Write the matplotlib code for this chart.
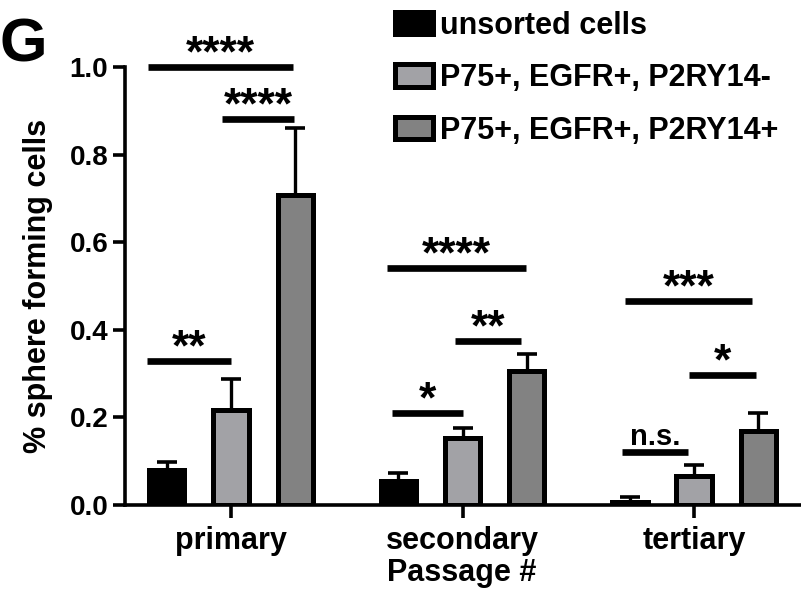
import matplotlib
matplotlib.use("Agg")
import matplotlib.pyplot as plt
import numpy as np

plt.rcParams['font.family'] = ['Liberation Sans', 'DejaVu Sans']
plt.rcParams['font.weight'] = 'bold'

groups = ["primary", "secondary", "tertiary"]
series = ["unsorted cells", "P75+, EGFR+, P2RY14-", "P75+, EGFR+, P2RY14+"]
colors = ["#000000", "#a2a2a6", "#828282"]
means = {
    "unsorted cells": [0.079, 0.054, 0.006],
    "P75+, EGFR+, P2RY14-": [0.218, 0.154, 0.067],
    "P75+, EGFR+, P2RY14+": [0.707, 0.305, 0.170],
}
err_tops = {
    "unsorted cells": [0.098, 0.073, 0.018],
    "P75+, EGFR+, P2RY14-": [0.288, 0.176, 0.091],
    "P75+, EGFR+, P2RY14+": [0.860, 0.345, 0.210],
}
# significance brackets (spans in x data units, height in y units)
sig_x0 = [-0.359, -0.039, -0.363, 0.674, 0.696, 0.968, 1.689, 1.702, 1.978]
sig_x1 = [0.268, 0.272, 0.000, 1.274, 1.002, 1.253, 1.974, 2.251, 2.268]
sig_y = [1.000, 0.881, 0.329, 0.541, 0.210, 0.375, 0.121, 0.466, 0.297]
sig_text = ["****", "****", "**", "****", "*", "**", "n.s.", "***", "*"]

fig = plt.figure(figsize=(8.01, 5.91), dpi=100)
ax = fig.add_axes([125/801, 1-505/591, 1-125/801, (505-67)/591])

x = np.arange(len(groups))
offset = 0.277
width = 0.152
for i, s in enumerate(series):
    xs = x + (i - 1) * offset
    m = np.array(means[s])
    e = np.array(err_tops[s]) - m
    ax.bar(xs, m, width, color=colors[i], edgecolor="black", linewidth=3.6,
           label=s, zorder=3)
    ax.errorbar(xs, m, yerr=[np.zeros_like(e), e], fmt="none", ecolor="black",
                elinewidth=2.4, capsize=7, capthick=2.6, zorder=2)

for xa, xb, h, t in zip(sig_x0, sig_x1, sig_y, sig_text):
    ax.plot([xa, xb], [h, h], color="black", lw=4.8, solid_capstyle="butt",
            clip_on=False, zorder=4)
    if t.startswith("*"):
        ax.text((xa + xb) / 2, h - 0.02, t, ha="center", va="bottom",
                fontsize=32, fontweight="bold", clip_on=False)
    else:
        ax.text((xa + xb) / 2, h + 0.016, t, ha="center", va="baseline",
                fontsize=21, fontweight="bold", clip_on=False)

ax.set_xlim(-0.458, 2.462)
ax.set_ylim(0, 1.0)
ax.set_yticks([0.0, 0.2, 0.4, 0.6, 0.8, 1.0])
ax.set_yticklabels(["0.0", "0.2", "0.4", "0.6", "0.8", "1.0"])
ax.set_xticks(x)
ax.set_xticklabels(groups)
for sp in ["top", "right"]:
    ax.spines[sp].set_visible(False)
for sp in ["left", "bottom"]:
    ax.spines[sp].set_linewidth(2.6)
ax.tick_params(axis="both", width=2.6, length=9)
ax.tick_params(axis="y", labelsize=20, pad=3)
ax.tick_params(axis="x", labelsize=22, pad=6)
for lab in ax.get_xticklabels() + ax.get_yticklabels():
    lab.set_fontweight("bold")
ax.set_ylabel("% sphere forming cells", fontsize=22, fontweight="bold",
              va="center", ha="center")
ax.yaxis.set_label_coords((38 - 125) / 676, 0.5)
ax.set_xlabel("Passage #", fontsize=22, fontweight="bold", va="baseline")
ax.xaxis.set_label_coords((462 - 125) / 676, -(581 - 505) / 438)

fig.legend(loc="upper left", bbox_to_anchor=(384/801, 1.0), frameon=False,
           handlelength=1.24, handleheight=0.75, handletextpad=0.23,
           labelspacing=0.74, borderaxespad=0.0, borderpad=0.35,
           prop={"weight": "bold", "size": 22})

fig.text(0.0, 1 - 62/591, "G", fontsize=44, fontweight="bold", ha="left", va="baseline")

fig.savefig("out.png", dpi=100)
